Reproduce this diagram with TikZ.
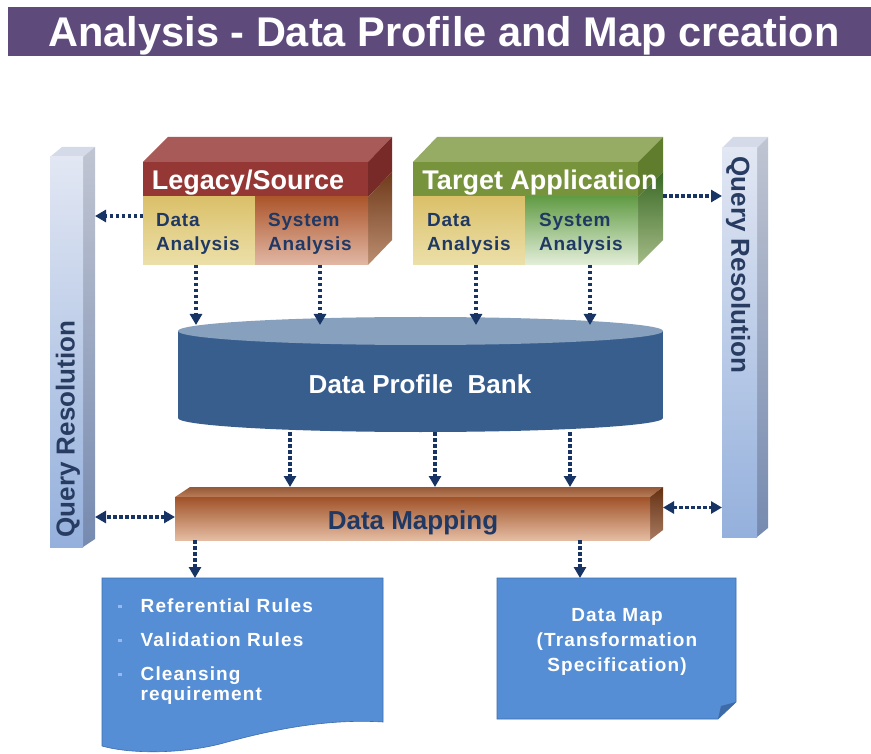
\documentclass[tikz,border=0pt]{standalone}
\usepackage{fontspec}
\setmainfont{Liberation Sans}
\newfontfamily\cellfont[LetterSpace=4]{Liberation Sans}
\newfontfamily\docfont[LetterSpace=6]{Liberation Sans}
\usetikzlibrary{arrows.meta,calc}
\definecolor{titlebg}{RGB}{94,75,123}
\definecolor{arrowc}{RGB}{23,52,100}
\definecolor{txtnavy}{RGB}{31,56,100}
\definecolor{qtxt}{RGB}{40,60,98}
\definecolor{bankbody}{RGB}{56,94,141}
\definecolor{banktop}{RGB}{135,160,190}
\definecolor{docfill}{RGB}{85,142,213}
\definecolor{docline}{RGB}{62,108,172}
\definecolor{docfold}{RGB}{62,106,168}
\definecolor{bulletc}{RGB}{150,185,245}
\definecolor{leghead}{RGB}{149,55,53}
\definecolor{legtop}{RGB}{168,90,88}
\definecolor{legside}{RGB}{120,42,40}
\definecolor{tarhead}{RGB}{119,147,60}
\definecolor{tartop}{RGB}{150,172,100}
\definecolor{tarside}{RGB}{95,125,45}
\definecolor{qtop}{RGB}{212,218,232}
\begin{document}
\begin{tikzpicture}[x=1pt,y=-1pt,
  box/.style={inner sep=0pt, outer sep=0pt},
  hdr/.style={text=white, font=\fontsize{27}{27}\selectfont\bfseries, inner sep=0pt},
  cell/.style={text=txtnavy, font=\fontsize{19}{24}\selectfont\cellfont\bfseries, align=left, inner sep=0pt, anchor=west},
  qlabel/.style={text=qtxt, font=\fontsize{26}{26}\selectfont\bfseries, inner sep=0pt},
  doctext/.style={text=white, font=\fontsize{19}{25}\selectfont\docfont\bfseries, inner sep=0pt},
  docshape/.style={fill=docfill, draw=docline, line width=0.6pt},
  flow/.style={draw=arrowc, line width=3.5pt, dash pattern=on 3.5pt off 2.5pt, -{Triangle[length=11pt,width=12pt]}},
  flowboth/.style={draw=arrowc, line width=3.5pt, dash pattern=on 3.5pt off 2.5pt, {Triangle[length=11pt,width=12pt]}-{Triangle[length=11pt,width=12pt]}}
]
\useasboundingbox (0,0) rectangle (871,754);
\fill[white] (0,0) rectangle (871,754);

% ---------- title ----------
\node[box, fill=titlebg, minimum width=863pt, minimum height=49pt] (titleband) at (439.5,31.5) {};
\node[box, text=white, font=\fontsize{41.5}{41.5}\selectfont\bfseries] (title) at (444,35.5)
      {Analysis - Data Profile and Map creation};

% ---------- left query bar ----------
\fill[qtop] (50,157) -- (62,147) -- (95,147) -- (83,157) -- cycle;
\shade[top color={rgb,255:red,192;green,197;blue,210}, bottom color={rgb,255:red,118;green,138;blue,176}]
  (83,157) -- (95,147) -- (95,539) -- (83,547) -- cycle;
\node[box, minimum width=33pt, minimum height=390pt,
      top color={rgb,255:red,226;green,231;blue,243}, bottom color={rgb,255:red,148;green,176;blue,220}]
      (lbar) at (66.5,352) {};
\node[qlabel, rotate=90] (lbarlabel) at (68,429) {Query Resolution};

% ---------- right query bar ----------
\fill[qtop] (722,148) -- (733,137) -- (768,137) -- (757,148) -- cycle;
\shade[top color={rgb,255:red,192;green,197;blue,210}, bottom color={rgb,255:red,118;green,138;blue,176}]
  (757,148) -- (768,137) -- (768,528) -- (757,537) -- cycle;
\node[box, minimum width=35pt, minimum height=389pt,
      top color={rgb,255:red,226;green,231;blue,243}, bottom color={rgb,255:red,148;green,176;blue,220}]
      (rbar) at (739.5,342.5) {};
\node[qlabel, rotate=-90] (rbarlabel) at (738,265) {Query Resolution};

% ---------- Legacy / Source block ----------
\fill[legtop] (143,162) -- (168,137) -- (392,137) -- (368,162) -- cycle;
\fill[legside] (368,162) -- (392,137) -- (392,172) -- (368,197) -- cycle;
\shade[top color={rgb,255:red,112;green,58;blue,28}, bottom color={rgb,255:red,188;green,142;blue,112}]
  (368,197) -- (392,172) -- (392,240) -- (368,265) -- cycle;
\node[box, fill=leghead, minimum width=225pt, minimum height=35pt] (leghead) at (255.5,179.5) {};
\node[box, minimum width=112pt, minimum height=68pt,
      top color={rgb,255:red,218;green,192;blue,105}, middle color={rgb,255:red,204;green,172;blue,84},
      bottom color={rgb,255:red,236;green,224;blue,170}] (legdata) at (199,231) {};
\node[box, minimum width=113pt, minimum height=68pt,
      top color={rgb,255:red,172;green,86;blue,44}, middle color={rgb,255:red,208;green,145;blue,105},
      bottom color={rgb,255:red,226;green,184;blue,165}] (legsys) at (311.5,231) {};
\node[hdr] (legtitle) at (248,183) {Legacy/Source};
\node[cell] (legdatatext) at (156,234) {Data\\Analysis};
\node[cell] (legsystext) at (268,234) {System\\Analysis};

% ---------- Target Application block ----------
\fill[tartop] (413,162) -- (437,137) -- (663,137) -- (638,162) -- cycle;
\fill[tarside] (638,162) -- (663,137) -- (663,172) -- (638,197) -- cycle;
\shade[top color={rgb,255:red,58;green,105;blue,38}, bottom color={rgb,255:red,165;green,188;blue,135}]
  (638,197) -- (663,172) -- (663,240) -- (638,265) -- cycle;
\node[box, fill=tarhead, minimum width=225pt, minimum height=35pt] (tarhead) at (525.5,179.5) {};
\node[box, minimum width=112pt, minimum height=68pt,
      top color={rgb,255:red,218;green,192;blue,105}, middle color={rgb,255:red,204;green,172;blue,84},
      bottom color={rgb,255:red,236;green,224;blue,170}] (tardata) at (469,231) {};
\node[box, minimum width=113pt, minimum height=68pt,
      top color={rgb,255:red,98;green,156;blue,70}, middle color={rgb,255:red,160;green,200;blue,135},
      bottom color={rgb,255:red,228;green,239;blue,218}] (tarsys) at (581.5,231) {};
\node[hdr] (tartitle) at (540,183) {Target Application};
\node[cell] (tardatatext) at (427,234) {Data\\Analysis};
\node[cell] (tarsystext) at (539,234) {System\\Analysis};

% ---------- Data Profile Bank (cylinder) ----------
\fill[bankbody] (178,331) rectangle (663,418);
\fill[bankbody] (420.5,418) ellipse [x radius=242.5, y radius=14];
\fill[banktop] (420.5,331) ellipse [x radius=242.5, y radius=14];
\node[box, minimum width=485pt, minimum height=107pt] (bank) at (420.5,378.5) {};
\node[text=white, font=\fontsize{26}{26}\selectfont\bfseries, inner sep=0pt] (banklabel) at (420,384) {Data Profile\ \ Bank};

% ---------- Data Mapping ----------
\shade[top color={rgb,255:red,150;green,88;blue,55}, bottom color={rgb,255:red,185;green,125;blue,90}]
  (175,497) -- (190,487) -- (663,487) -- (650,497) -- cycle;
\shade[top color={rgb,255:red,100;green,48;blue,18}, bottom color={rgb,255:red,168;green,122;blue,96}]
  (650,497) -- (663,487) -- (663,530) -- (650,540) -- cycle;
\node[box, minimum width=475pt, minimum height=43pt,
      top color={rgb,255:red,160;green,82;blue,40}, middle color={rgb,255:red,205;green,140;blue,95},
      bottom color={rgb,255:red,228;green,188;blue,162}] (dmap) at (412.5,518.5) {};
\node[box, text=txtnavy, font=\fontsize{26}{26}\selectfont\bfseries] (dmaplabel) at (413,522.5) {Data Mapping};

% ---------- bottom documents ----------
\path[docshape] (102,578) -- (383,578) -- (383,722)
  .. controls (320,718) and (260,733) .. (220,744)
  .. controls (180,754) and (130,754) .. (102,746) -- cycle;
\node[box, minimum width=281pt, minimum height=168pt] (doc1) at (242.5,662) {};
\node[doctext, anchor=base west] (doc1text) at (118,612) {%
  \begin{tabular}[t]{@{}l@{\hspace{19pt}}l@{}}
  \textcolor{bulletc}{\rule[4pt]{3.5pt}{3.5pt}} & Referential Rules\\[9pt]
  \textcolor{bulletc}{\rule[4pt]{3.5pt}{3.5pt}} & Validation Rules\\[9pt]
  \textcolor{bulletc}{\rule[4pt]{3.5pt}{3.5pt}} & Cleansing\\[-5pt]
   & requirement
  \end{tabular}};

\path[docshape] (497,578) -- (736,578) -- (736,702) -- (718,719) -- (497,719) -- cycle;
\fill[docfold] (736,702) -- (718,719) -- (721,706) -- cycle;
\node[box, minimum width=239pt, minimum height=141pt] (doc2) at (616.5,648.5) {};
\node[doctext, align=center] (doc2text) at (617,642) {Data Map\\(Transformation\\Specification)};

% ---------- connectors ----------
\coordinate (a1) at ([xshift=-3pt]legdata.south);
\coordinate (a2) at ([xshift=8.5pt]legsys.south);
\coordinate (a3) at ([xshift=7pt]tardata.south);
\coordinate (a4) at ([xshift=8.5pt]tarsys.south);
\draw[flow] (a1) -- (a1 |- bank.north);
\draw[flow] (a2) -- (a2 |- bank.north);
\draw[flow] (a3) -- (a3 |- bank.north);
\draw[flow] (a4) -- (a4 |- bank.north);

\coordinate (dmtop) at ([yshift=10pt]dmap.north);
\coordinate (b1) at ([xshift=-130.5pt]bank.south);
\coordinate (b2) at ([xshift=14.5pt]bank.south);
\coordinate (b3) at ([xshift=149.5pt]bank.south);
\draw[flow] (b1) -- (b1 |- dmtop);
\draw[flow] (b2) -- (b2 |- dmtop);
\draw[flow] (b3) -- (b3 |- dmtop);

\coordinate (lbarside) at ([xshift=12pt]lbar.east);
\coordinate (ql) at ([yshift=15pt]legdata.west);
\draw[flow] (ql) -- (ql -| lbarside);
\coordinate (qr) at ([xshift=25pt,yshift=1pt]tarhead.south east);
\draw[flow] (qr) -- (qr -| rbar.west);

\draw[flowboth] ([yshift=1.5pt]dmap.west) -- ([yshift=1.5pt]dmap.west -| lbarside);
\coordinate (dmside) at ([xshift=13pt,yshift=11pt]dmap.east);
\draw[flowboth] (dmside) -- (dmside -| rbar.west);

\coordinate (c1) at ([xshift=-217.5pt]dmap.south);
\coordinate (c2) at ([xshift=167.5pt]dmap.south);
\draw[flow] (c1) -- (c1 |- doc1.north);
\draw[flow] (c2) -- (c2 |- doc2.north);
\end{tikzpicture}
\end{document}
